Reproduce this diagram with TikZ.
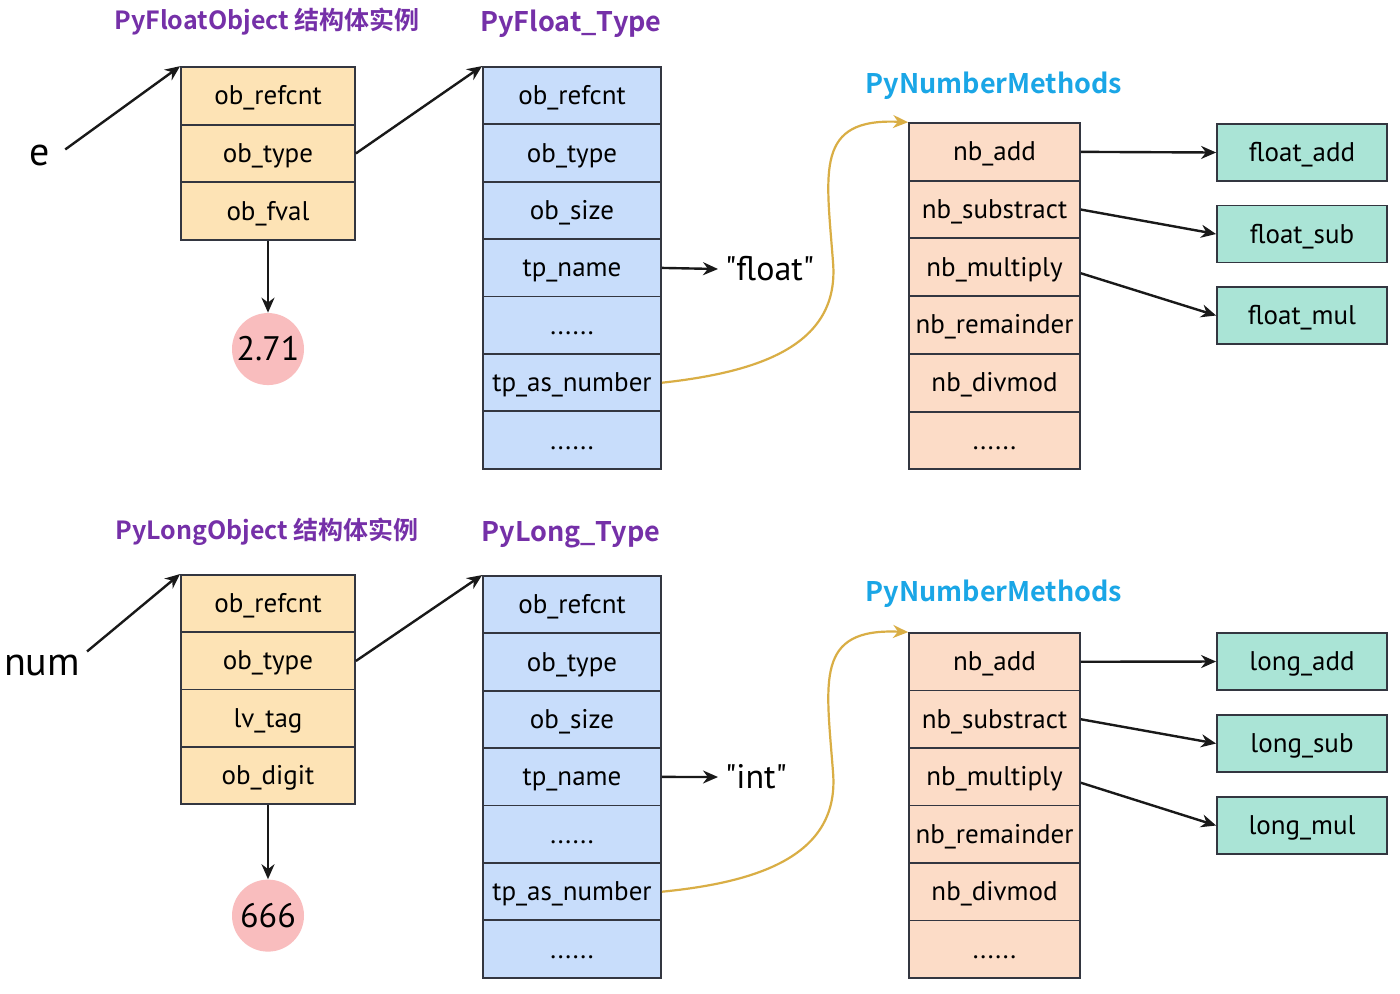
\documentclass[tikz,border=0pt]{standalone}
\usepackage{fontspec}
\usetikzlibrary{arrows.meta,positioning}
\setmainfont{PT Sans}
\newfontfamily\plainfam{PT Sans}
\newfontfamily\cjkbold{Noto Sans CJK SC}[BoldFont=* Bold]
\definecolor{objc}{HTML}{FDE3B5}
\definecolor{typec}{HTML}{C8DDFB}
\definecolor{numc}{HTML}{FCDCC7}
\definecolor{funcc}{HTML}{AAE4D6}
\definecolor{valc}{HTML}{F9BDBE}
\definecolor{linec}{HTML}{333640}
\definecolor{purp}{HTML}{7530A8}
\definecolor{cyanc}{HTML}{1AA6E6}
\definecolor{goldc}{HTML}{D9AE45}
\newcommand\lblfont{\fontsize{13.5}{16}\selectfont}
\newcommand\ttlfont{\cjkbold\bfseries\fontsize{12.5}{15}\selectfont}
\newcommand\bigttlfont{\cjkbold\bfseries\fontsize{13.5}{16}\selectfont}
\newcommand\varfont{\fontsize{20}{24}\selectfont}
\newcommand\strfont{\fontsize{17}{20}\selectfont}
\newcommand\etcdots{......}
\newcommand\qt[1]{{\plainfam"#1"}}

\begin{document}
\begin{tikzpicture}[x=0.5pt,y=-0.5pt,
  cell/.style={draw=linec, line width=0.9pt, minimum height=28.75pt, inner sep=0pt,
    text height=1.9ex, text depth=0.1ex, font=\lblfont},
  objcell/.style={cell, fill=objc, minimum width=87pt},
  typecell/.style={cell, fill=typec, minimum width=89pt},
  numcell/.style={cell, fill=numc, minimum width=85.5pt},
  funcbox/.style={cell, fill=funcc, minimum width=85pt, minimum height=28.5pt},
  valcirc/.style={circle, fill=valc, minimum size=36pt, inner sep=0pt, font=\strfont},
  ptr/.style={-{Stealth[length=7.5pt,width=6.5pt]}, line width=1.2pt, draw=black!90},
  slot/.style={ptr, draw=goldc, line width=1.1pt},
  ttl/.style={font=\ttlfont, text=purp},
  tttl/.style={font=\bigttlfont, text=purp},
  mttl/.style={font=\bigttlfont, text=cyanc}]
  \useasboundingbox[fill=white] (0,0) rectangle (1400,993);

  % ---- float ----
  \node[ttl] (fobjttl) at (267,22) {PyFloatObject 结构体实例};
  \node[tttl] (ftypettl) at (571,24) {PyFloat\_Type};
  \node[mttl] (fnumttl) at (994,86) {PyNumberMethods};

  \foreach \t [count=\i] in {ob\_refcnt, ob\_type, ob\_fval}
    \node[objcell] (fo\i) at (268,{67+57.6*(\i-0.5)}) {\t};
  \foreach \t [count=\i] in {ob\_refcnt, ob\_type, ob\_size, tp\_name, \etcdots, tp\_as\_number, \etcdots}
    \node[typecell] (ft\i) at (572,{67+57.4*(\i-0.5)}) {\t};
  \foreach \t [count=\i] in {nb\_add, nb\_substract, nb\_multiply, nb\_remainder, nb\_divmod, \etcdots}
    \node[numcell] (fn\i) at (994.5,{123+57.7*(\i-0.5)}) {\t};
  \node[funcbox] (fadd) at (1302,152.5) {float\_add};
  \node[funcbox] (fsub) at (1302,234) {float\_sub};
  \node[funcbox] (fmul) at (1302,315.5) {float\_mul};

  \node[font=\varfont] (e) at (40,155) {e};
  \node[valcirc, below=36pt of fo3] (fval) {2.71};
  \node[font=\strfont, anchor=west] (fname) at (718,269) {\qt{float}};

  \draw[ptr] ([xshift=4pt,yshift=-6pt]e.north east) -- (fo1.north west);
  \draw[ptr] (fo2.east) -- (ft1.north west);
  \draw[ptr] (fo3.south) -- (fval.north);
  \draw[ptr] (ft4.east) -- (fname.west);
  \draw[slot] (ft6.east) .. controls (760,372) and (840,345) .. (833,262)
    .. controls (826,170) and (815,118) .. (fn1.north west);
  \draw[ptr] (fn1.east) -- (fadd.west);
  \draw[ptr] (fn2.east) -- (fsub.west);
  \draw[ptr] ([yshift=-3pt]fn3.east) -- (fmul.west);

  % ---- long ----
  \node[ttl] (lobjttl) at (267,532) {PyLongObject 结构体实例};
  \node[tttl] (ltypettl) at (571,535) {PyLong\_Type};
  \node[mttl] (lnumttl) at (994,594) {PyNumberMethods};

  \foreach \t [count=\i] in {ob\_refcnt, ob\_type, lv\_tag, ob\_digit}
    \node[objcell] (lo\i) at (268,{575+57.3*(\i-0.5)}) {\t};
  \foreach \t [count=\i] in {ob\_refcnt, ob\_type, ob\_size, tp\_name, \etcdots, tp\_as\_number, \etcdots}
    \node[typecell] (lt\i) at (572,{576+57.4*(\i-0.5)}) {\t};
  \foreach \t [count=\i] in {nb\_add, nb\_substract, nb\_multiply, nb\_remainder, nb\_divmod, \etcdots}
    \node[numcell] (ln\i) at (994.5,{633+57.5*(\i-0.5)}) {\t};
  \node[funcbox] (ladd) at (1302,661.5) {long\_add};
  \node[funcbox] (lsub) at (1302,743.5) {long\_sub};
  \node[funcbox] (lmul) at (1302,825.5) {long\_mul};

  \node[font=\varfont] (num) at (42,665) {num};
  \node[valcirc, below=37pt of lo4] (lval) {666};
  \node[font=\strfont, anchor=west] (lname) at (718,777) {\qt{int}};

  \draw[ptr] ([yshift=-2pt]num.north east) -- (lo1.north west);
  \draw[ptr] (lo2.east) -- (lt1.north west);
  \draw[ptr] (lo4.south) -- (lval.north);
  \draw[ptr] (lt4.east) -- (lname.west);
  \draw[slot] (lt6.east) .. controls (760,882) and (840,855) .. (833,772)
    .. controls (826,680) and (815,628) .. (ln1.north west);
  \draw[ptr] (ln1.east) -- (ladd.west);
  \draw[ptr] (ln2.east) -- (lsub.west);
  \draw[ptr] ([yshift=-3pt]ln3.east) -- (lmul.west);
\end{tikzpicture}
\end{document}
